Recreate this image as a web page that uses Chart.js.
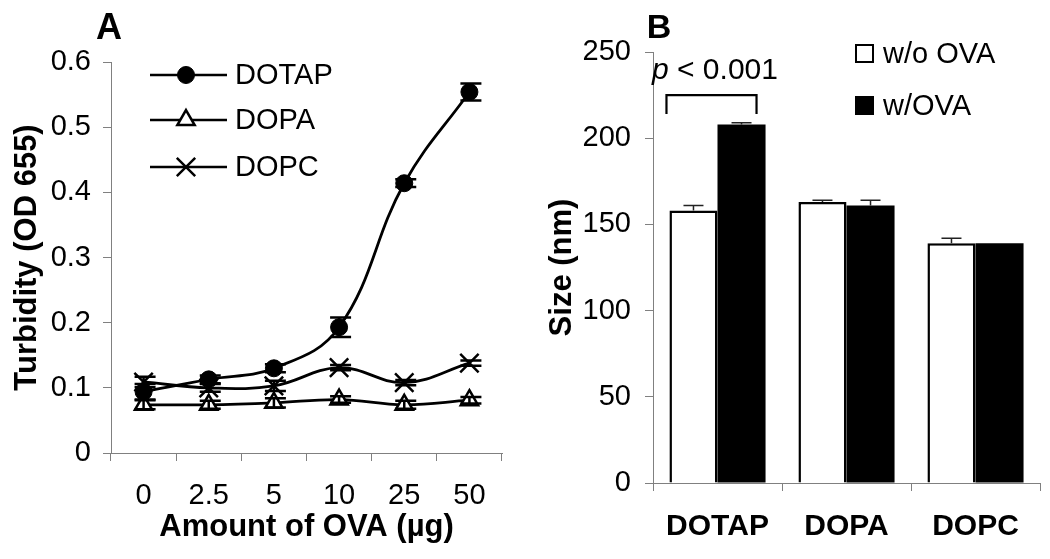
<!DOCTYPE html>
<html>
<head>
<meta charset="utf-8">
<script src="https://cdn.jsdelivr.net/npm/chart.js@4/dist/chart.umd.min.js"></script>
<style>
  body { margin: 0; background: #fff; }
  #wrap { position: relative; width: 1050px; height: 559px; }
  canvas { position: absolute; top: 0; }
</style>
</head>
<body>
<div id="wrap">
  <canvas id="chartA" width="530" height="559" style="left:0"></canvas>
  <canvas id="chartB" width="520" height="559" style="left:530px"></canvas>
</div>
<script>
// panel A: turbidity vs amount of OVA
const doseLabels = ['0', '2.5', '5', '10', '25', '50'];
const dotapOD = [0.094, 0.113, 0.130, 0.193, 0.414, 0.554];
const dotapErr = [0.012, 0.006, 0.006, 0.015, 0.006, 0.013];
const dopaOD = [0.074, 0.074, 0.077, 0.082, 0.074, 0.081];
const dopaErr = [0.007, 0.006, 0.007, 0.005, 0.006, 0.005];
const dopcOD = [0.109, 0.100, 0.103, 0.131, 0.108, 0.138];
const dopcErr = [0.008, 0.006, 0.008, 0.004, 0.004, 0.004];
const turbidityTicks = [0, 0.1, 0.2, 0.3, 0.4, 0.5, 0.6];

// panel B: particle size
const lipids = ['DOTAP', 'DOPA', 'DOPC'];
const sizeNoOva = [158, 163, 139];
const sizeNoOvaErr = [3, 1, 3];
const sizeOva = [208, 161, 139];
const sizeOvaErr = [1, 3, 0];
const sizeTicks = [0, 50, 100, 150, 200, 250];

const FONT = '"Liberation Sans", Arial, sans-serif';
Chart.defaults.font.family = FONT;
Chart.defaults.color = '#000';

const axisGrid = { drawOnChartArea: false, drawTicks: true, tickLength: 8, color: '#808080' };
const axisBorder = { color: '#808080', width: 1 };

// error bars for the line chart (both directions, with caps)
const lineErrors = {
  id: 'lineErrors',
  afterDatasetsDraw(chart) {
    const errs = [dotapErr, dopaErr, dopcErr];
    const ctx = chart.ctx;
    const y = chart.scales.y;
    ctx.save();
    ctx.strokeStyle = '#000';
    ctx.lineWidth = 2.5;
    chart.data.datasets.forEach((ds, i) => {
      chart.getDatasetMeta(i).data.forEach((pt, j) => {
        const v = ds.data[j], e = errs[i][j];
        const top = y.getPixelForValue(v + e), bot = y.getPixelForValue(v - e);
        ctx.beginPath();
        ctx.moveTo(pt.x, top); ctx.lineTo(pt.x, bot);
        ctx.moveTo(pt.x - 9, top); ctx.lineTo(pt.x + 12, top);
        ctx.moveTo(pt.x - 9, bot); ctx.lineTo(pt.x + 12, bot);
        ctx.stroke();
      });
    });
    ctx.restore();
  },
  afterDraw(chart) {
    const ctx = chart.ctx;
    ctx.save();
    ctx.fillStyle = '#000';
    ctx.font = 'bold 36px ' + FONT;
    ctx.textAlign = 'center';
    ctx.textBaseline = 'alphabetic';
    ctx.fillText('A', 109, 39);
    // legend
    const rows = [75, 120, 167];
    ctx.font = '29px ' + FONT;
    ctx.textAlign = 'left';
    ctx.textBaseline = 'middle';
    chart.data.datasets.forEach((ds, i) => {
      const yy = rows[i];
      ctx.strokeStyle = '#000';
      ctx.lineWidth = 2.5;
      ctx.beginPath(); ctx.moveTo(150, yy); ctx.lineTo(227, yy); ctx.stroke();
      ctx.fillStyle = ds.pointBackgroundColor;
      ctx.lineWidth = ds.pointBorderWidth;
      Chart.helpers.drawPoint(ctx, { pointStyle: ds.pointStyle, radius: ds.pointRadius, borderWidth: ds.pointBorderWidth, rotation: 0 }, 186, yy);
      ctx.fillStyle = '#000';
      ctx.fillText(ds.label, 235, yy + 1);
    });
    ctx.restore();
  }
};

new Chart(document.getElementById('chartA'), {
  type: 'line',
  data: {
    labels: doseLabels,
    datasets: [
      { label: 'DOTAP', data: dotapOD, borderColor: '#000', borderWidth: 2.8, tension: 0.4,
        pointStyle: 'circle', pointRadius: 8.5, pointBackgroundColor: '#000', pointBorderColor: '#000', pointBorderWidth: 1 },
      { label: 'DOPA', data: dopaOD, borderColor: '#000', borderWidth: 2.8, tension: 0.4,
        pointStyle: 'triangle', pointRadius: 10, pointBackgroundColor: '#fff', pointBorderColor: '#000', pointBorderWidth: 2.5 },
      { label: 'DOPC', data: dopcOD, borderColor: '#000', borderWidth: 2.8, tension: 0.4,
        pointStyle: 'crossRot', pointRadius: 13, pointBackgroundColor: '#000', pointBorderColor: '#000', pointBorderWidth: 2.5 }
    ]
  },
  options: {
    responsive: false,
    animation: false,
    layout: { padding: { top: 62, right: 28, bottom: 0, left: 0 } },
    plugins: { legend: { display: false }, tooltip: { enabled: false } },
    scales: {
      x: {
        offset: true,
        grid: Object.assign({ offset: true }, axisGrid),
        border: axisBorder,
        ticks: { font: { size: 29 }, padding: 18, maxRotation: 0 },
        title: { display: true, text: 'Amount of OVA (µg)', font: { size: 31, weight: 'bold' }, padding: { top: 0, bottom: 13 } },
        afterFit(scale) { scale.height = 106; }
      },
      y: {
        min: 0, max: 0.6,
        grid: axisGrid,
        border: axisBorder,
        afterBuildTicks(scale) { scale.ticks = turbidityTicks.map(v => ({ value: v })); },
        ticks: { font: { size: 29 }, padding: 12, callback: v => String(v) },
        title: { display: true, text: 'Turbidity (OD 655)', font: { size: 31, weight: 'bold' }, padding: { top: 9, bottom: 0 } },
        afterFit(scale) { scale.width = 111; }
      }
    }
  },
  plugins: [lineErrors]
});

// error bars (upward only) and annotations for the bar chart
const barExtras = {
  id: 'barExtras',
  afterDatasetsDraw(chart) {
    const errs = [sizeNoOvaErr, sizeOvaErr];
    const ctx = chart.ctx;
    const y = chart.scales.y;
    ctx.save();
    ctx.strokeStyle = '#222';
    ctx.lineWidth = 1.5;
    chart.data.datasets.forEach((ds, i) => {
      chart.getDatasetMeta(i).data.forEach((bar, j) => {
        const e = errs[i][j];
        if (!e) return;
        const top = y.getPixelForValue(ds.data[j] + e);
        ctx.beginPath();
        ctx.moveTo(bar.x, bar.y); ctx.lineTo(bar.x, top);
        ctx.moveTo(bar.x - 10, top); ctx.lineTo(bar.x + 10, top);
        ctx.stroke();
      });
    });
    ctx.restore();
  },
  afterDraw(chart) {
    const ctx = chart.ctx;
    const y = chart.scales.y;
    const m0 = chart.getDatasetMeta(0).data[0], m1 = chart.getDatasetMeta(1).data[0];
    ctx.save();
    ctx.fillStyle = '#000';
    ctx.font = 'bold 34px ' + FONT;
    ctx.textAlign = 'center';
    ctx.fillText('B', 129, 38);
    // significance bracket
    const by = y.getPixelForValue(225);
    ctx.strokeStyle = '#000';
    ctx.lineWidth = 2.2;
    ctx.beginPath();
    ctx.moveTo(m0.x - 27, by + 19); ctx.lineTo(m0.x - 27, by); ctx.lineTo(m1.x + 15, by); ctx.lineTo(m1.x + 15, by + 19);
    ctx.stroke();
    ctx.textAlign = 'left';
    ctx.textBaseline = 'middle';
    ctx.font = 'italic 30px ' + FONT;
    ctx.fillText('p', 122, 71);
    const pw = ctx.measureText('p ').width;
    ctx.font = '30px ' + FONT;
    ctx.fillText('< 0.001', 122 + pw, 71);
    // legend
    const rows = [54, 106];
    ctx.font = '29px ' + FONT;
    chart.data.datasets.forEach((ds, i) => {
      ctx.fillStyle = ds.backgroundColor;
      ctx.fillRect(326, rows[i] - 9, 17, 17);
      ctx.strokeStyle = '#000';
      ctx.lineWidth = 2;
      ctx.strokeRect(326, rows[i] - 9, 17, 17);
      ctx.fillStyle = '#000';
      ctx.fillText(ds.label, 353, rows[i] + 1);
    });
    ctx.restore();
  }
};

new Chart(document.getElementById('chartB'), {
  type: 'bar',
  data: {
    labels: lipids,
    datasets: [
      { label: 'w/o OVA', data: sizeNoOva, backgroundColor: '#fff', borderColor: '#000', borderWidth: 2.5 },
      { label: 'w/OVA', data: sizeOva, backgroundColor: '#000', borderColor: '#000', borderWidth: 0 }
    ]
  },
  options: {
    responsive: false,
    animation: false,
    layout: { padding: { top: 52, right: 10, bottom: 0, left: 0 } },
    datasets: { bar: { categoryPercentage: 0.745, barPercentage: 1 } },
    plugins: { legend: { display: false }, tooltip: { enabled: false } },
    scales: {
      x: {
        grid: Object.assign({ offset: true }, axisGrid),
        border: axisBorder,
        ticks: { font: { size: 30, weight: 'bold' }, padding: 18, maxRotation: 0 },
        afterFit(scale) { scale.height = 76; }
      },
      y: {
        min: 0, max: 250,
        grid: axisGrid,
        border: axisBorder,
        afterBuildTicks(scale) { scale.ticks = sizeTicks.map(v => ({ value: v })); },
        ticks: { font: { size: 29 }, padding: 14 },
        title: { display: true, text: 'Size (nm)', font: { size: 31, weight: 'bold' }, padding: { top: 14, bottom: 0 } },
        afterFit(scale) { scale.width = 123; }
      }
    }
  },
  plugins: [barExtras]
});
</script>
</body>
</html>
